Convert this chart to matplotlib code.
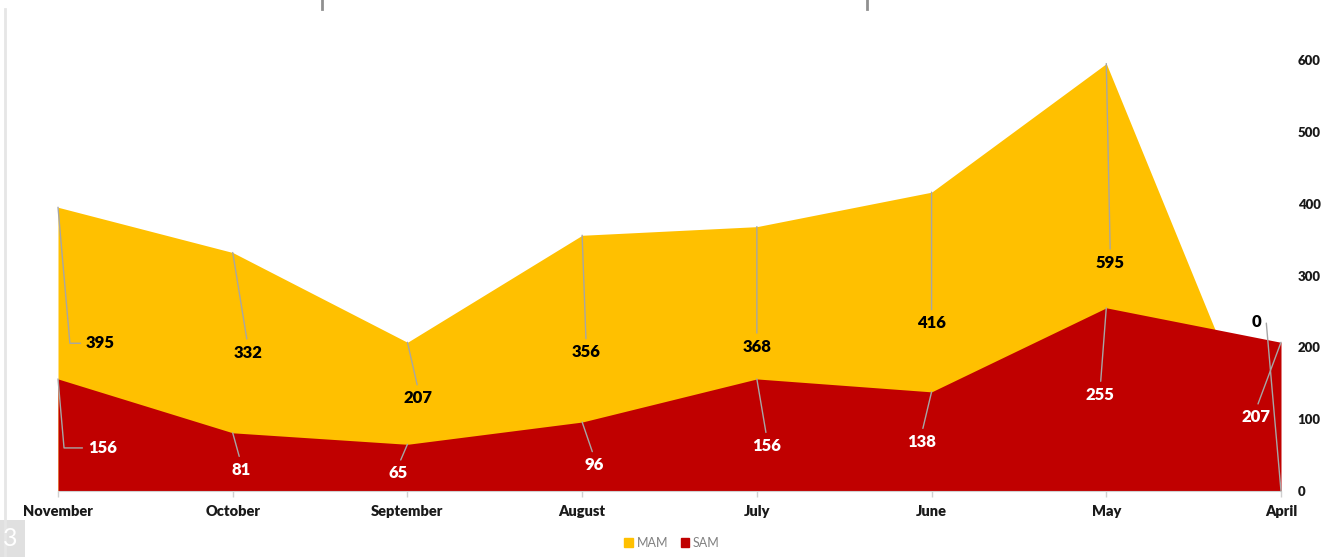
import matplotlib
matplotlib.use("Agg")
import matplotlib.pyplot as plt
from matplotlib.patches import Rectangle
from matplotlib.lines import Line2D

months = ["November", "October", "September", "August", "July", "June", "May", "April"]
mam = [395, 332, 207, 356, 368, 416, 595, 0]
sam = [156, 81, 65, 96, 156, 138, 255, 207]
yticks = [0, 100, 200, 300, 400, 500, 600]

# label offsets in pixels (dx, dy) from the data point
mam_off = [(43, -136), (15, -92), (11, -48), (4, -109), (0, -112), (0, -123), (4, -191), (-32, 169)]
sam_off = [(45, -69), (8, -29), (-9, -21), (12, -35), (10, -59), (-10, -42), (-6, -79), (-25, -67)]

plt.rcParams['font.family'] = ['Lato', 'DejaVu Sans']

fig = plt.figure(figsize=(13.25, 5.57), dpi=100)
ax = fig.add_axes([58/1325, 1-491/557, (1281-58)/1325, (491-60)/557])

x = list(range(len(months)))
ax.fill_between(x, 0, mam, color="#FFC000", lw=0, label="MAM")
ax.fill_between(x, 0, sam, color="#C00000", lw=0, label="SAM")

ax.set_xlim(0, len(months)-1)
ax.set_ylim(0, 600)
ax.set_xticks(x)
ax.set_xticklabels(months, fontsize=10.5, fontweight='heavy', color='#1a1a1a')
ax.set_yticks(yticks)
ax.yaxis.tick_right()
ax.tick_params(axis='y', length=0, pad=12, labelsize=9.5, labelcolor='#1a1a1a')
for t in ax.get_yticklabels():
    t.set_fontweight('heavy')
ax.tick_params(axis='x', length=4, color='#d0d0d0', width=1, pad=6)
for s in ['top', 'left', 'right']:
    ax.spines[s].set_visible(False)
ax.spines['bottom'].set_color('#d0d0d0')
ax.set_zorder(1)

lead = '#a6a6a6'

def add_labels(vals, offs, color):
    for i, (v, (dx, dy)) in enumerate(zip(vals, offs)):
        if i == 0:
            rel, ha, va = (0, 0.5), 'left', 'center'
            dx2 = dx - 15
        elif i == len(vals)-1 and dy > 0:
            rel, ha, va = (1, 0.5), 'right', 'center'
            dx2 = dx + 12
        else:
            rel, ha, va = (0.5, 1), 'center', 'top'
            dx2 = dx
        ax.annotate(str(v), xy=(i, v), xytext=(dx2, dy), textcoords='offset pixels',
                    ha=ha, va=va, fontsize=12, fontweight='heavy', color=color,
                    arrowprops=dict(arrowstyle='-', color=lead, lw=1, shrinkA=2, shrinkB=0,
                                    relpos=rel,
                                    connectionstyle=("angle,angleA=0,angleB=95,rad=0" if ha != 'center' else "arc3")),
                    annotation_clip=False, zorder=5)

add_labels(mam, mam_off, 'black')
add_labels(sam, sam_off, 'white')

leg = fig.legend(handles=[Rectangle((0, 0), 1, 1, color="#FFC000"), Rectangle((0, 0), 1, 1, color="#C00000")],
                 labels=["MAM", "SAM"], loc='center', bbox_to_anchor=(672/1325, 1-543/557),
                 ncol=2, frameon=False, fontsize=9, handlelength=0.7, handleheight=0.7,
                 handletextpad=0.3, columnspacing=1.0)
for t in leg.get_texts():
    t.set_color('#808080')

# frame artifacts
fig.add_artist(Line2D([5/1325, 5/1325], [0, 1-9/557], color='#e6e6e6', lw=2))
fig.add_artist(Line2D([322/1325, 322/1325], [1, 1-9/557], color='#909090', lw=2))
fig.add_artist(Line2D([867/1325, 867/1325], [1, 1-9/557], color='#909090', lw=2))
fig.add_artist(Rectangle((0, 0), 25/1325, 37/557, transform=fig.transFigure, color='#e0e0e0', lw=0))
fig.text(3/1325, 18/557, "3", fontsize=18, color='white', va='center', ha='left')

fig.savefig("out.png", dpi=100)
